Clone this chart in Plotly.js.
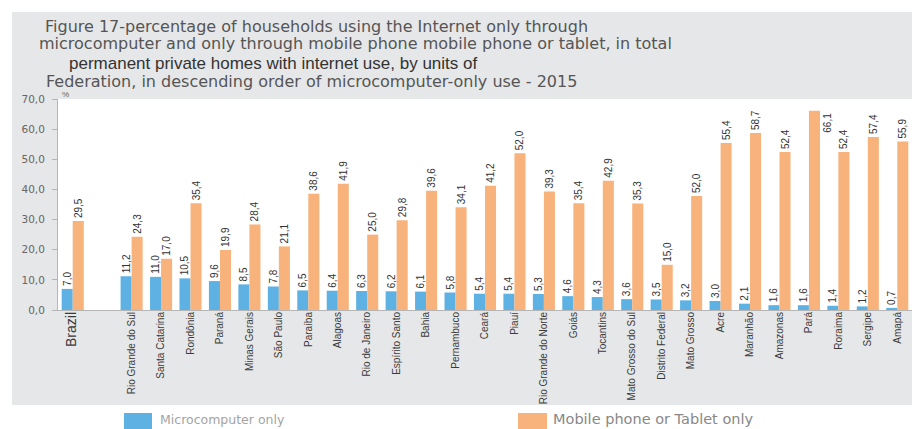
<!DOCTYPE html>
<html>
<head>
<meta charset="utf-8">
<script src="https://cdn.plot.ly/plotly-3.0.1.min.js"></script>
<style>html,body{margin:0;padding:0;background:#fff}#chart{width:912px;height:429px}</style>
</head>
<body>
<div id="chart"></div>
<script>
// ---- data ----
const titleLines = [
  'Figure 17-percentage of households using the Internet only through',
  'microcomputer and only through mobile phone mobile phone or tablet, in total',
  'permanent private homes with internet use, by units of',
  'Federation, in descending order of microcomputer-only use - 2015'
];
const categories = ['Brazil','Rio Grande do Sul','Santa Catarina','Rondônia','Paraná','Minas Gerais','São Paulo','Paraíba','Alagoas','Rio de Janeiro','Espírito Santo','Bahia','Pernambuco','Ceará','Piauí','Rio Grande do Norte','Goiás','Tocantins','Mato Grosso do Sul','Distrito Federal','Mato Grosso','Acre','Maranhão','Amazonas','Pará','Roraima','Sergipe','Amapá'];
const microValues = [7.0,11.2,11.0,10.5,9.6,8.5,7.8,6.5,6.4,6.3,6.2,6.1,5.8,5.4,5.4,5.3,4.6,4.3,3.6,3.5,3.2,3.0,2.1,1.6,1.6,1.4,1.2,0.7];
const mobileValues = [29.5,24.3,17.0,35.4,19.9,28.4,21.1,38.6,41.9,25.0,29.8,39.6,34.1,41.2,52.0,39.3,35.4,42.9,35.3,15.0,37.8,55.4,58.7,52.4,66.1,52.4,57.4,55.9];
const mobileLabels = ['29,5','24,3','17,0','35,4','19,9','28,4','21,1','38,6','41,9','25,0','29,8','39,6','34,1','41,2','52,0','39,3','35,4','42,9','35,3','15,0','52,0','55,4','58,7','52,4','66,1','52,4','57,4','55,9'];
const seriesNames = ['Microcomputer only','Mobile phone or Tablet only'];
const yTicks = [0,10,20,30,40,50,60,70];
const gapCategory = '_gap';
const sideLabelState = 'Pará';

// ---- build ----
const fmt = v => v.toFixed(1).replace('.', ',');
const axisOrder = [categories[0], gapCategory].concat(categories.slice(1));
const tickText = axisOrder.map(c => c === gapCategory ? '' :
  (c === 'Brazil' ? '<span style="font-size:14px">Brazil</span>' : c));
const sideIdx = categories.indexOf(sideLabelState);

const blue = '#5db2e3', orange = '#f8b27b';
const labelFont = {family: 'Liberation Sans Narrow, Arial Narrow, Liberation Sans, sans-serif', size: 10, color: '#333'};

const traces = [
  {type: 'bar', name: seriesNames[0], x: categories, y: microValues,
   marker: {color: blue}, text: microValues.map(fmt), textposition: 'outside', constraintext: 'none',
   textangle: -90, textfont: labelFont, cliponaxis: false, hoverinfo: 'x+y'},
  {type: 'bar', name: seriesNames[1], x: categories, y: mobileValues,
   marker: {color: orange}, text: mobileLabels.map((t, i) => i === sideIdx ? '' : t),
   textposition: 'outside', constraintext: 'none', textangle: -90, textfont: labelFont, cliponaxis: false, hoverinfo: 'x+y'}
];

// pixel helpers for paper coords (plot: x 58..912, y 99..310)
const L = 58, R = 912, T = 99, B = 310;
const px = x => (x - L) / (R - L);
const py = y => (B - y) / (B - T);

const shapes = [
  {type: 'rect', xref: 'paper', yref: 'paper', x0: px(12), x1: px(930), y0: py(405), y1: py(12),
   fillcolor: '#e6e7e8', line: {width: 0}, layer: 'below'},
  {type: 'rect', xref: 'paper', yref: 'paper', x0: 0, x1: 1, y0: 0, y1: 1,
   fillcolor: '#ffffff', line: {width: 0}, layer: 'below'},
  {type: 'rect', xref: 'paper', yref: 'paper', x0: px(124), x1: px(152), y0: py(432), y1: py(413),
   fillcolor: blue, line: {width: 0}},
  {type: 'rect', xref: 'paper', yref: 'paper', x0: px(518), x1: px(547), y0: py(432), y1: py(413),
   fillcolor: orange, line: {width: 0}}
];

const titleFont = {family: 'DejaVu Sans, sans-serif', size: 16, color: '#555'};
const annotations = [
  {xref: 'paper', yref: 'paper', x: px(38), y: py(43.5), xanchor: 'left', yanchor: 'middle',
   text: titleLines[1], showarrow: false, font: titleFont, borderpad: 0},
  {xref: 'paper', yref: 'paper', x: px(68), y: py(63), xanchor: 'left', yanchor: 'middle',
   text: titleLines[2], showarrow: false, borderpad: 0,
   font: {family: 'Liberation Sans, Arial, sans-serif', size: 17, color: '#333'}},
  {xref: 'paper', yref: 'paper', x: px(45), y: py(81), xanchor: 'left', yanchor: 'middle',
   text: titleLines[3], showarrow: false, font: titleFont, borderpad: 0},
  {xref: 'paper', yref: 'paper', x: px(61), y: py(94), xanchor: 'left', yanchor: 'middle',
   text: '%', showarrow: false, borderpad: 0, font: {family: 'Liberation Sans, sans-serif', size: 8, color: '#666'}},
  {xref: 'paper', yref: 'paper', x: px(158), y: py(429), xanchor: 'left', yanchor: 'bottom',
   text: seriesNames[0], showarrow: false, font: {family: 'DejaVu Sans, sans-serif', size: 12.5, color: '#a3a3a3'}},
  {xref: 'paper', yref: 'paper', x: px(551), y: py(429), xanchor: 'left', yanchor: 'bottom',
   text: seriesNames[1], showarrow: false, font: {family: 'DejaVu Sans, sans-serif', size: 14.5, color: '#888'}},
  {xref: 'x', yref: 'y', x: categories[sideIdx], y: mobileValues[sideIdx], xshift: 19,
   xanchor: 'center', yanchor: 'top', text: mobileLabels[sideIdx], textangle: -90,
   showarrow: false, font: labelFont}
];

const layout = {
  width: 912, height: 429,
  margin: {l: L, r: 912 - R, t: T, b: 429 - B, pad: 0},
  paper_bgcolor: '#ffffff', plot_bgcolor: '#ffffff',
  separators: ',.',
  showlegend: false,
  barmode: 'group', bargap: 0.25, bargroupgap: 0,
  title: {text: titleLines[0], font: titleFont, xref: 'container', yref: 'container',
          x: 45 / 912, xanchor: 'left', y: 1 - 26 / 429, yanchor: 'middle'},
  xaxis: {type: 'category', categoryorder: 'array', categoryarray: axisOrder,
          range: [-0.5, axisOrder.length - 0.5], tickmode: 'array', tickvals: axisOrder, ticktext: tickText,
          tickangle: -90, ticks: '', showline: true, linecolor: '#b5b5b5', linewidth: 1,
          showgrid: false, zeroline: false, ticklabelstandoff: -3,
          tickfont: {family: 'Liberation Sans Narrow, Arial Narrow, Liberation Sans, sans-serif', size: 10, color: '#3a3a3a'}},
  yaxis: {range: [0, 70], tickmode: 'array', tickvals: yTicks, tickformat: '.1f',
          ticks: 'outside', ticklen: 5, tickcolor: '#b5b5b5', showline: true, linecolor: '#b5b5b5',
          showgrid: false, zeroline: false, ticklabelstandoff: 5,
          tickfont: {family: 'DejaVu Sans, sans-serif', size: 10.5, color: '#666'}},
  shapes: shapes,
  annotations: annotations
};

Plotly.newPlot('chart', traces, layout, {displayModeBar: false, staticPlot: true});
</script>
</body>
</html>
